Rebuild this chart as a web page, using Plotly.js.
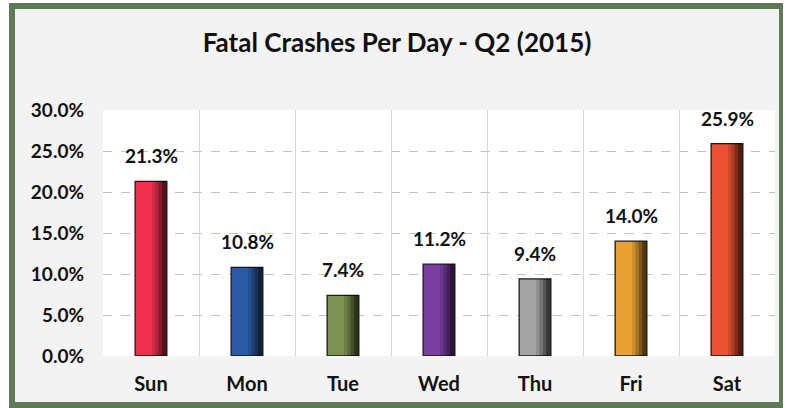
<!DOCTYPE html>
<html>
<head>
<meta charset="utf-8">
<script src="https://cdn.plot.ly/plotly-3.0.1.min.js"></script>
<style>
  html, body { margin: 0; padding: 0; background: #ffffff; width: 789px; height: 408px; overflow: hidden; }
  #frame { position: absolute; left: 9px; top: 3px; width: 764px; height: 393px; border: 6px solid #5f7a57; border-right-width: 4px; background: #f3f3f3; }
  #chart { width: 764px; height: 393px; }
</style>
</head>
<body>
<div id="frame"><div id="chart"></div></div>
<script>
const days = ["Sun", "Mon", "Tue", "Wed", "Thu", "Fri", "Sat"];
const shares = [21.3, 10.8, 7.4, 11.2, 9.4, 14.0, 25.9];
const labels = ["21.3%", "10.8%", "7.4%", "11.2%", "9.4%", "14.0%", "25.9%"];
const barColors = ["#f0304c", "#2c5aa6", "#7b9252", "#7a3ea2", "#a3a3a3", "#e9a232", "#ea5232"];
const yTicks = [0, 5, 10, 15, 20, 25, 30];
const yTickText = ["0.0%", "5.0%", "10.0%", "15.0%", "20.0%", "25.0%", "30.0%"];

const FONT = "Lato, 'Open Sans', sans-serif";
const BW = 0.33;

const traces = [{
  type: "bar", x: days, y: shares, width: BW, offset: -BW / 2,
  marker: { color: barColors, line: { color: "#1a1a1a", width: 1.3 } },
  hoverinfo: "skip"
}];
// darker shading toward the right edge of each bar
const shades = [
  { w: 0.15, a: 0.12 },
  { w: 0.115, a: 0.18 },
  { w: 0.08, a: 0.25 },
  { w: 0.045, a: 0.35 }
];
shades.forEach(s => {
  traces.push({
    type: "bar", x: days, y: shares, width: s.w, offset: BW / 2 - s.w - 0.004,
    marker: { color: "rgba(0,0,0," + s.a + ")", line: { width: 0 } },
    hoverinfo: "skip"
  });
});

const annotations = days.map((d, i) => ({
  x: d, y: shares[i], xref: "x", yref: "y", text: labels[i],
  showarrow: false, yanchor: "bottom", yshift: 12,
  font: { family: FONT, size: 19, color: "#111", weight: "bold" }
}));

const layout = {
  width: 764, height: 393,
  margin: { l: 88, r: 4, t: 101, b: 46 },
  paper_bgcolor: "#f3f3f3",
  plot_bgcolor: "#ffffff",
  barmode: "overlay",
  showlegend: false,
  title: {
    text: "Fatal Crashes Per Day - Q2 (2015)",
    font: { family: FONT, size: 26, color: "#111", weight: "bold" },
    x: 0.5, xanchor: "center", y: 0.913, yanchor: "middle", yref: "container"
  },
  xaxis: {
    type: "category", categoryorder: "array", categoryarray: days,
    tickson: "boundaries", showgrid: true, gridcolor: "#d6d6d6", gridwidth: 1,
    ticks: "", showline: false, zeroline: false,
    ticklabelstandoff: 14,
    tickfont: { family: FONT, size: 20, color: "#111", weight: "bold" }
  },
  yaxis: {
    range: [0, 30], tickvals: yTicks, ticktext: yTickText,
    showgrid: true, gridcolor: "#c2c2c2", griddash: "dash", gridwidth: 1,
    zeroline: false, showline: false, ticks: "",
    ticklabelstandoff: 18,
    tickfont: { family: FONT, size: 19, color: "#111", weight: "bold" }
  },
  annotations: annotations
};

Plotly.newPlot("chart", traces, layout, { staticPlot: true, displayModeBar: false });
</script>
</body>
</html>
